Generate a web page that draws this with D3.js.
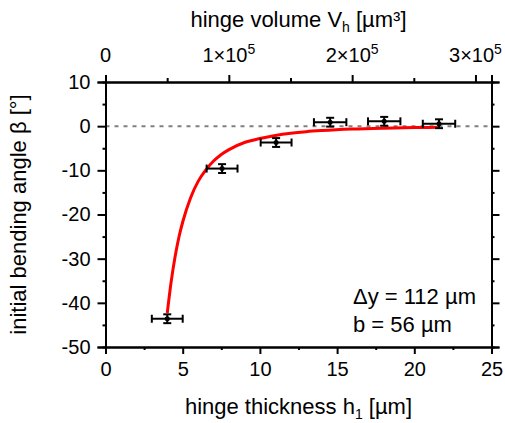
<!DOCTYPE html>
<html lang="en">
  <head>
    <meta charset="UTF-8" />
    <title>Initial bending angle</title>
    <style>
      body { margin: 0; background: #fff; }
      text { font-family: "Liberation Sans", Arial, sans-serif; fill: #000; }
    </style>
  </head>
  <body>
    <script src="https://cdn.jsdelivr.net/npm/d3@7"></script>
    <script>
    // measured points
    var hingeThickness = [4.0, 7.55, 11.05, 14.55, 18.05, 21.6];
    var bendingAngle = [-43.6, -9.6, -3.7, 0.9, 1.1, 0.55];
    var thicknessError = [1.0, 1.0, 1.0, 1.05, 1.05, 1.05];
    var angleError = [1.0, 1.0, 1.0, 1.0, 1.0, 1.0];

    // fit curve
    var fitThickness = [4.0, 4.25, 4.5, 4.75, 5.0, 5.5, 6.0, 6.5, 7.0, 7.5, 8.0, 9.0, 10, 11, 12, 13, 14, 16, 18, 20, 21.6];
    var fitAngle = [-42.3, -35.3, -29.7, -25.2, -21.7, -16.3, -12.5, -9.9, -7.9, -6.4, -5.3, -3.7, -2.8, -2.1, -1.6, -1.25, -1.0, -0.65, -0.45, -0.32, -0.25];

    var bottomTicks = [0, 5, 10, 15, 20, 25];
    var leftTicks = [10, 0, -10, -20, -30, -40, -50];
    var topTicks = [0, 1e5, 2e5, 3e5];
    var topTickLabels = ["0", "1×10", "2×10", "3×10"];

    var width = 505, height = 423;
    var margin = {left: 105.5, right: 13.5, top: 82, bottom: 76};

    var svg = d3.select("body").append("svg")
      .attr("width", width)
      .attr("height", height);

    var x = d3.scaleLinear().domain([0, 25]).range([margin.left, width - margin.right]);
    var y = d3.scaleLinear().domain([-50, 10]).range([height - margin.bottom, margin.top]);
    var xTop = d3.scaleLinear().domain([0, 3.13e5]).range([margin.left, width - margin.right]);

    // plain hyphen like the original
    var fmt = function(d) { return String(d); };

    // zero line
    svg.append("line")
      .attr("x1", x(0)).attr("x2", x(25))
      .attr("y1", y(0)).attr("y2", y(0))
      .attr("stroke", "#808080")
      .attr("stroke-width", 2)
      .attr("stroke-dasharray", "4,5");

    // axes
    svg.append("g")
      .attr("transform", "translate(0," + y(-50) + ")")
      .call(d3.axisBottom(x).tickValues(bottomTicks).tickSize(7).tickPadding(8).tickFormat(fmt));
    svg.append("g")
      .attr("transform", "translate(0," + y(-50) + ")")
      .call(d3.axisBottom(x).tickValues(d3.range(2.5, 25, 5)).tickSize(3).tickFormat(""));

    svg.append("g")
      .attr("transform", "translate(" + x(0) + ",0)")
      .call(d3.axisLeft(y).tickValues(leftTicks).tickSize(8).tickPadding(7).tickFormat(fmt));
    svg.append("g")
      .attr("transform", "translate(" + x(0) + ",0)")
      .call(d3.axisLeft(y).tickValues(d3.range(-45, 10, 10)).tickSize(3).tickFormat(""));

    svg.append("g")
      .attr("transform", "translate(" + x(25) + ",0)")
      .call(d3.axisRight(y).tickValues(leftTicks).tickSize(8).tickFormat(""));
    svg.append("g")
      .attr("transform", "translate(" + x(25) + ",0)")
      .call(d3.axisRight(y).tickValues(d3.range(-45, 10, 10)).tickSize(3).tickFormat(""));

    svg.append("g")
      .attr("transform", "translate(0," + y(10) + ")")
      .call(d3.axisTop(xTop).tickValues(topTicks).tickSize(7).tickFormat(""));
    svg.append("g")
      .attr("transform", "translate(0," + y(10) + ")")
      .call(d3.axisTop(xTop).tickValues([0.5e5, 1.5e5, 2.5e5]).tickSize(4).tickFormat(""));

    svg.selectAll(".domain").attr("stroke", "#000").attr("stroke-width", 2);
    svg.selectAll(".tick line").attr("stroke", "#000").attr("stroke-width", 2);
    svg.selectAll(".tick text").attr("font-size", "20px")
      .style("font-family", "'Liberation Sans', Arial, sans-serif");

    // top tick labels with superscript
    var topLab = svg.append("g").selectAll("text")
      .data(topTicks)
      .enter()
      .append("text")
      .attr("x", function(d) { return xTop(d); })
      .attr("y", 62)
      .attr("text-anchor", "middle")
      .attr("font-size", "20px");
    topLab.append("tspan").text(function(d, i) { return topTickLabels[i]; });
    topLab.filter(function(d) { return d > 0; })
      .append("tspan")
      .attr("dy", -8)
      .attr("font-size", "14px")
      .text("5");

    // fit curve
    var line = d3.line()
      .x(function(d) { return x(d[0]); })
      .y(function(d) { return y(d[1]); })
      .curve(d3.curveMonotoneX);
    svg.append("path")
      .datum(d3.zip(fitThickness, fitAngle))
      .attr("d", line)
      .attr("fill", "none")
      .attr("stroke", "#ff0000")
      .attr("stroke-width", 3);

    // error bars
    var pts = d3.range(hingeThickness.length).map(function(i) {
      return {h: hingeThickness[i], b: bendingAngle[i], dh: thicknessError[i], db: angleError[i]};
    });
    var eb = svg.append("g").attr("stroke", "#000").attr("stroke-width", 2);
    eb.selectAll(".xerr").data(pts).enter().append("line")
      .attr("x1", function(d) { return x(d.h - d.dh); })
      .attr("x2", function(d) { return x(d.h + d.dh); })
      .attr("y1", function(d) { return y(d.b); })
      .attr("y2", function(d) { return y(d.b); });
    eb.selectAll(".xcapl").data(pts).enter().append("line")
      .attr("x1", function(d) { return x(d.h - d.dh); })
      .attr("x2", function(d) { return x(d.h - d.dh); })
      .attr("y1", function(d) { return y(d.b) - 4; })
      .attr("y2", function(d) { return y(d.b) + 4; });
    eb.selectAll(".xcapr").data(pts).enter().append("line")
      .attr("x1", function(d) { return x(d.h + d.dh); })
      .attr("x2", function(d) { return x(d.h + d.dh); })
      .attr("y1", function(d) { return y(d.b) - 4; })
      .attr("y2", function(d) { return y(d.b) + 4; });
    eb.selectAll(".yerr").data(pts).enter().append("line")
      .attr("x1", function(d) { return x(d.h); })
      .attr("x2", function(d) { return x(d.h); })
      .attr("y1", function(d) { return y(d.b - d.db); })
      .attr("y2", function(d) { return y(d.b + d.db); });
    eb.selectAll(".ycapt").data(pts).enter().append("line")
      .attr("x1", function(d) { return x(d.h) - 4; })
      .attr("x2", function(d) { return x(d.h) + 4; })
      .attr("y1", function(d) { return y(d.b + d.db); })
      .attr("y2", function(d) { return y(d.b + d.db); });
    eb.selectAll(".ycapb").data(pts).enter().append("line")
      .attr("x1", function(d) { return x(d.h) - 4; })
      .attr("x2", function(d) { return x(d.h) + 4; })
      .attr("y1", function(d) { return y(d.b - d.db); })
      .attr("y2", function(d) { return y(d.b - d.db); });
    svg.selectAll(".pt").data(pts).enter().append("circle")
      .attr("cx", function(d) { return x(d.h); })
      .attr("cy", function(d) { return y(d.b); })
      .attr("r", 2.5)
      .attr("fill", "#000");

    // axis titles
    var xt = svg.append("text")
      .attr("x", x(12.5)).attr("y", 414)
      .attr("text-anchor", "middle")
      .attr("font-size", "22px");
    xt.append("tspan").text("hinge thickness h");
    xt.append("tspan").attr("font-size", "14px").attr("dy", 5).text("1");
    xt.append("tspan").attr("dy", -5).text(" [µm]");

    var tt = svg.append("text")
      .attr("x", x(12.5)).attr("y", 27)
      .attr("text-anchor", "middle")
      .attr("font-size", "22px");
    tt.append("tspan").text("hinge volume V");
    tt.append("tspan").attr("font-size", "14px").attr("dy", 5).text("h");
    tt.append("tspan").attr("dy", -5).text(" [µm³]");

    svg.append("text")
      .attr("transform", "translate(26," + y(-20) + ") rotate(-90)")
      .attr("text-anchor", "middle")
      .attr("font-size", "22px")
      .text("initial bending angle β [°]");

    // annotation
    svg.append("text")
      .attr("x", 353).attr("y", 304)
      .attr("font-size", "22px")
      .text("Δy = 112 µm");
    svg.append("text")
      .attr("x", 353).attr("y", 332)
      .attr("font-size", "22px")
      .text("b = 56 µm");
    </script>
  </body>
</html>
